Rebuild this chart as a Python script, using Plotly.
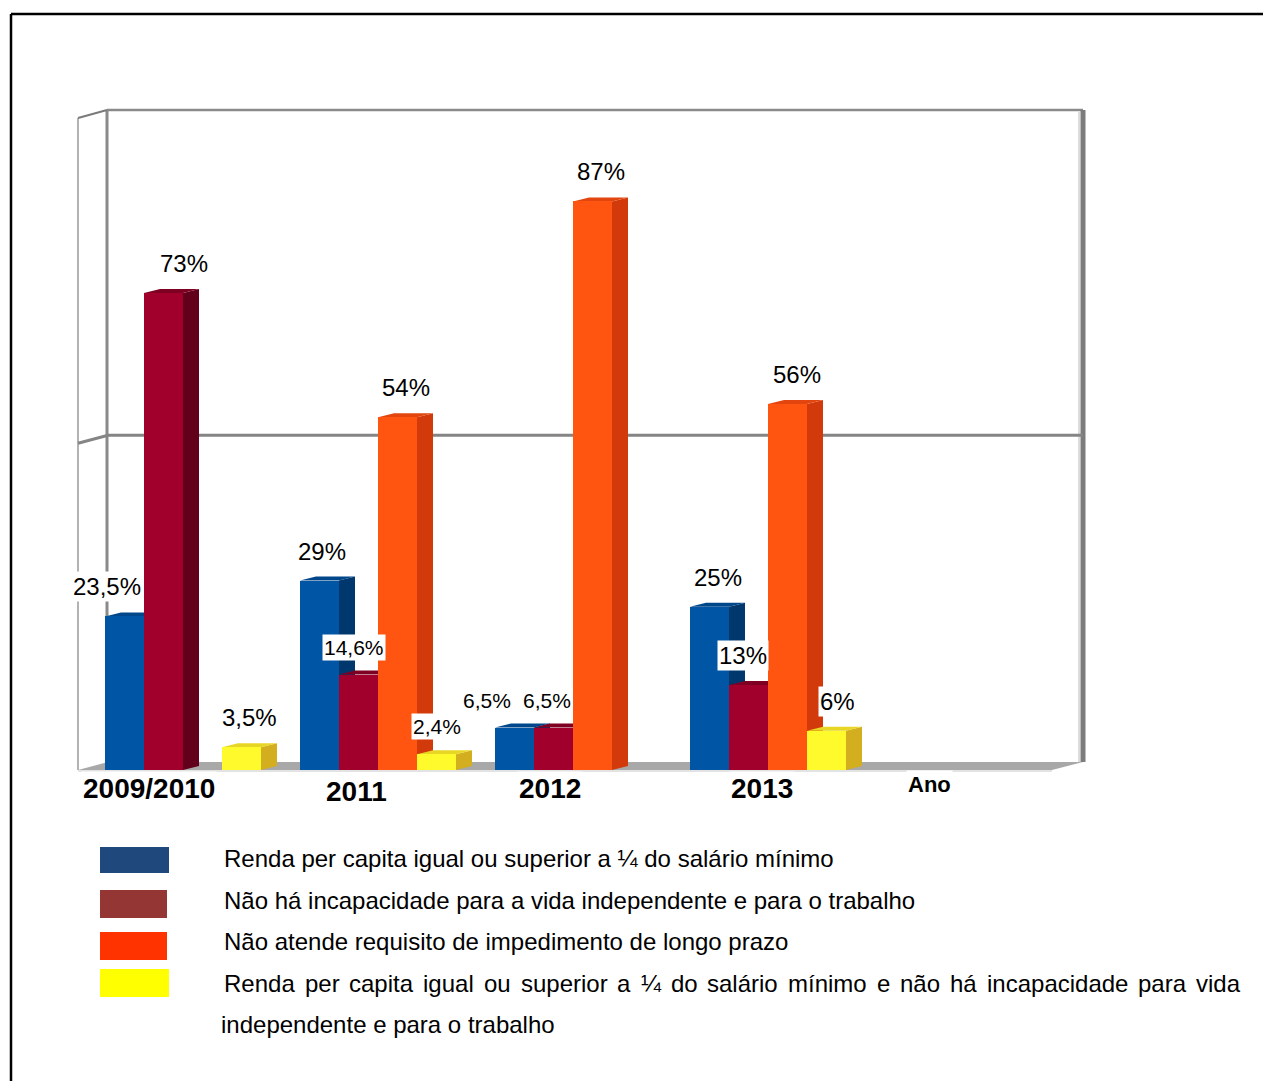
import plotly.graph_objects as go

# ---------------------------------------------------------------- data
CATEGORIES = ["2009/2010", "2011", "2012", "2013", "Ano"]

SERIES_NAMES = [
    "Renda per capita igual ou superior a ¼ do salário mínimo",
    "Não há incapacidade para a vida independente e para o trabalho",
    "Não atende requisito de impedimento de longo prazo",
    "Renda per capita igual ou superior a ¼ do salário mínimo e não há "
    "incapacidade para vida independente e para o trabalho",
]

RENDA = [23.5, 29, 6.5, 25]
INCAPACIDADE = [73, 14.6, 6.5, 13]
IMPEDIMENTO = [None, 54, 87, 56]
RENDA_E_INCAPACIDADE = [3.5, 2.4, None, 6]

SERIES_VALUES = [RENDA, INCAPACIDADE, IMPEDIMENTO, RENDA_E_INCAPACIDADE]

# ---------------------------------------------------------------- style
FRONT = ["#0055A5", "#A1002D", "#FF5511", "#FFFA2B"]
SIDE = ["#00386E", "#62001B", "#D23A0C", "#D3AE1F"]
TOP = ["#00468A", "#7E0022", "#E2460E", "#E8D624"]
SWATCH = ["#1F497D", "#943634", "#FF3300", "#FFFF00"]

FONT = "Liberation Sans, Arial, Helvetica, sans-serif"

W, H = 1263, 1081
PLOT_L, PLOT_R, PLOT_T, PLOT_B = 78, 1083, 110, 770   # plot area in px
PX_PER_CAT = 195
FIRST_CENTER_PX = 183
Y_MAX = 101
BAR_W = 0.2
SLOTS = [-1.5, -0.5, 0.5, 1.5]

X_RANGE = [(PLOT_L - FIRST_CENTER_PX) / PX_PER_CAT,
           (PLOT_R - FIRST_CENTER_PX) / PX_PER_CAT]
PX_PER_Y = (PLOT_B - PLOT_T) / Y_MAX

# depth of the bars and of the back wall (px -> data units)
BAR_DX, BAR_DY = 16 / PX_PER_CAT, 4 / PX_PER_Y
WALL_DX_PX, WALL_DY = 30, 8 / PX_PER_Y


def px(xp):
    """pixel x -> paper x"""
    return (xp - PLOT_L) / (PLOT_R - PLOT_L)


def py(yp):
    """pixel y -> paper y"""
    return (PLOT_B - yp) / (PLOT_B - PLOT_T)


fig = go.Figure()
shapes = []
annotations = []

# ---------------------------------------------------------------- frame + walls
line = lambda x0, y0, x1, y1, c, w, layer="below": dict(
    type="line", xref="paper", yref="paper", x0=px(x0), y0=py(y0),
    x1=px(x1), y1=py(y1), line=dict(color=c, width=w), layer=layer)

shapes.append(line(11, 14, 11, H + 5, "#000000", 2.5, "above"))
shapes.append(line(11, 14, W + 5, 14, "#000000", 2.5, "above"))

# floor
shapes.append(dict(
    type="path", xref="paper", yref="paper", layer="below",
    path=f"M {px(PLOT_L)},{py(770)} L {px(1052)},{py(770)} L {px(1083)},{py(762)} "
         f"L {px(108)},{py(762)} Z",
    fillcolor="#A8A8A8", line=dict(width=0)))
shapes.append(line(PLOT_L, 771, 1052, 771, "#C8C8C8", 1.2))
# left wall
shapes.append(line(78, 118, 78, 770, "#9A9A9A", 1.5))
shapes.append(line(107, 110, 107, 762, "#8A8A8A", 3))
shapes.append(line(78, 118, 107, 110, "#7A7A7A", 2))
# back wall edges
shapes.append(line(107, 110, 1083, 110, "#8A8A8A", 2.5))
shapes.append(line(1083, 110, 1083, 762, "#7C7C7C", 5))
shapes.append(line(1079, 112, 1079, 762, "#D0D0D0", 1.5))

# 50 % gridline on the walls
g_front, g_back = 50, 50 + WALL_DY
shapes.append(dict(
    type="path", xref="paper", yref="y", layer="below",
    path=f"M {px(78)},{g_front} L {px(78 + WALL_DX_PX)},{g_back} L {px(1083)},{g_back}",
    line=dict(color="#858585", width=3)))

# ---------------------------------------------------------------- bars
LABEL_DX_DEFAULT = 8
LABEL_DX = {(0, 0): -18, (1, 0): 20, (2, 0): 2, (0, 2): -28, (1, 2): -7,
            (1, 3): -6, (2, 3): 9, (3, 3): 11, (0, 1): 2, (1, 1): -5, (3, 1): 0}
SMALL_LABELS = {(1, 1), (3, 1), (0, 2), (1, 2)}


def fmt(v):
    return f"{v:g}".replace(".", ",") + "%"


for s, values in enumerate(SERIES_VALUES):
    xs, ys = [], []
    for c, v in enumerate(values):
        if v is None:
            continue
        x = c + SLOTS[s] * BAR_W
        xs.append(x)
        ys.append(v)
        x1 = x + BAR_W / 2
        x0 = x - BAR_W / 2
        # right side face
        shapes.append(dict(
            type="path", xref="x", yref="y", layer="between",
            path=f"M {x1},0 L {x1},{v} L {x1 + BAR_DX},{v + BAR_DY} "
                 f"L {x1 + BAR_DX},{BAR_DY} Z",
            fillcolor=SIDE[s], line=dict(width=0)))
        # top face
        shapes.append(dict(
            type="path", xref="x", yref="y", layer="between",
            path=f"M {x0},{v} L {x1},{v} L {x1 + BAR_DX},{v + BAR_DY} "
                 f"L {x0 + BAR_DX},{v + BAR_DY} Z",
            fillcolor=TOP[s], line=dict(width=0)))
        annotations.append(dict(
            x=x, y=v, xref="x", yref="y", text=fmt(v), showarrow=False,
            xanchor="center", yanchor="bottom",
            xshift=LABEL_DX.get((s, c), LABEL_DX_DEFAULT), yshift=14,
            font=dict(family=FONT, size=21 if (s, c) in SMALL_LABELS else 24,
                      color="#000000"),
            bgcolor="#FFFFFF", borderpad=1))
    fig.add_trace(go.Bar(
        x=xs, y=ys, width=BAR_W, name=SERIES_NAMES[s], showlegend=False,
        marker=dict(color=FRONT[s], line=dict(width=0)),
        hovertemplate="%{y}%<extra></extra>"))

# ---------------------------------------------------------------- category labels
CAT_XSHIFT = [-34, -22, -23, -6, -34]
CAT_YSHIFT = [-18, -21, -18, -18, -14]
for c, name in enumerate(CATEGORIES):
    annotations.append(dict(
        x=c, y=0, xref="x", yref="y", text=f"<b>{name}</b>", showarrow=False,
        xanchor="center", yanchor="middle",
        xshift=CAT_XSHIFT[c], yshift=CAT_YSHIFT[c],
        font=dict(family=FONT, size=22 if name == "Ano" else 28, color="#000000"),
        bgcolor="#FFFFFF"))

# ---------------------------------------------------------------- legend
SWATCH_BOXES = [(100, 847, 169, 873), (100, 890, 167, 918),
                (100, 932, 167, 960), (100, 969, 169, 997)]
for (x0, y0, x1, y1), col in zip(SWATCH_BOXES, SWATCH):
    shapes.append(dict(type="rect", xref="paper", yref="paper", layer="above",
                       x0=px(x0), y0=py(y0), x1=px(x1), y1=py(y1),
                       fillcolor=col, line=dict(width=0)))

LEG_SIZE = 24
LEG_X = 222
LEG_ROW_Y = [858, 900, 941, 983, 1024]


def legend_text(text, x, y):
    annotations.append(dict(
        x=px(x), y=py(y), xref="paper", yref="paper", text=text,
        showarrow=False, xanchor="left", yanchor="middle",
        font=dict(family=FONT, size=LEG_SIZE, color="#000000")))


for i in range(3):
    legend_text(SERIES_NAMES[i], LEG_X, LEG_ROW_Y[i])

# last entry: first line justified across the full width, second line ragged
ADV = {" ": 278, "R": 722, "e": 556, "n": 556, "d": 556, "a": 556, "p": 556,
       "r": 333, "c": 500, "i": 222, "t": 278, "g": 556, "u": 556, "l": 222,
       "o": 556, "s": 500, "¼": 834, "á": 556, "m": 833, "í": 278, "ã": 556,
       "h": 556, "v": 500, "b": 556}


def text_w(word):
    return sum(ADV.get(ch, 556) for ch in word) * LEG_SIZE / 1000


words = SERIES_NAMES[3].split(" ")
first_line, second_line = words[:17], words[17:]
JUSTIFY_RIGHT = 1238
gap = (JUSTIFY_RIGHT - LEG_X - sum(text_w(w) for w in first_line)) / (len(first_line) - 1)
xpos = LEG_X
for w in first_line:
    legend_text(w, xpos, LEG_ROW_Y[3])
    xpos += text_w(w) + gap
legend_text(" ".join(second_line), 219, LEG_ROW_Y[4])

# ---------------------------------------------------------------- layout
fig.update_layout(
    width=W, height=H,
    margin=dict(l=PLOT_L, r=W - PLOT_R, t=PLOT_T, b=H - PLOT_B, pad=0),
    paper_bgcolor="#FFFFFF", plot_bgcolor="rgba(0,0,0,0)",
    barmode="overlay", bargap=0,
    xaxis=dict(range=X_RANGE, showgrid=False, zeroline=False, showticklabels=False,
               ticks="", showline=False, fixedrange=True),
    yaxis=dict(range=[0, Y_MAX], showgrid=False, zeroline=False, showticklabels=False,
               ticks="", showline=False, fixedrange=True),
    shapes=shapes, annotations=annotations,
    font=dict(family=FONT),
)

fig.write_html("out.html", config={"displayModeBar": False})
